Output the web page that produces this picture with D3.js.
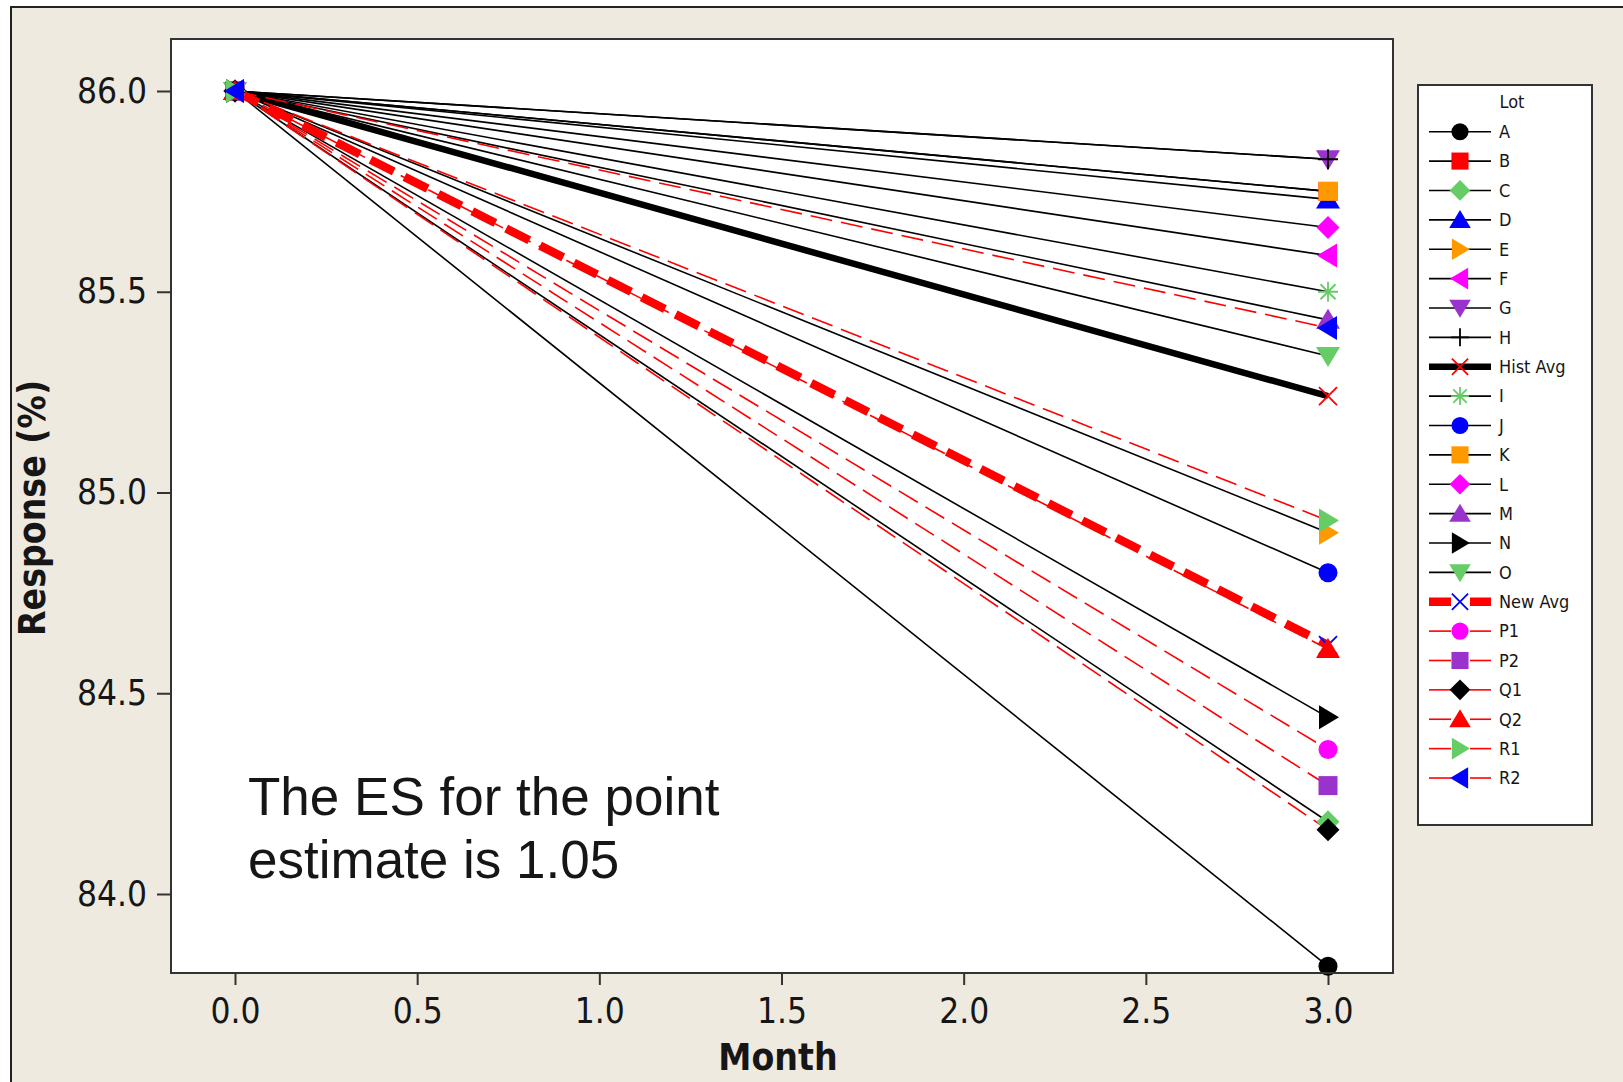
<!DOCTYPE html>
<html>
<head>
<meta charset="utf-8">
<script src="https://cdn.jsdelivr.net/npm/d3@7"></script>
<style>
  body { margin: 0; background: #fff; }
  svg text { fill: #161616; }
</style>
</head>
<body>
<div id="chart"></div>
<script>
// Lots in legend order
var lots = ["A", "B", "C", "D", "E", "F", "G", "H", "Hist Avg", "I", "J", "K", "L",
            "M", "N", "O", "New Avg", "P1", "P2", "Q1", "Q2", "R1", "R2"];
var months = [0, 3];
// Response (%) at month 0 and month 3, one pair per lot
var response = [
  [86.0, 83.82], // A
  [86.0, 85.75], // B
  [86.0, 84.18], // C
  [86.0, 85.73], // D
  [86.0, 84.90], // E
  [86.0, 85.59], // F
  [86.0, 85.83], // G
  [86.0, 85.83], // H
  [86.0, 85.24], // Hist Avg
  [86.0, 85.50], // I
  [86.0, 84.80], // J
  [86.0, 85.75], // K
  [86.0, 85.66], // L
  [86.0, 85.43], // M
  [86.0, 84.44], // N
  [86.0, 85.34], // O
  [86.0, 84.62], // New Avg
  [86.0, 84.36], // P1
  [86.0, 84.27], // P2
  [86.0, 84.16], // Q1
  [86.0, 84.61], // Q2
  [86.0, 84.93], // R1
  [86.0, 85.41]  // R2
];
var xTicks = [0, 0.5, 1, 1.5, 2, 2.5, 3];
var yTicks = [84, 84.5, 85, 85.5, 86];

// marker shape / colour / line kind per lot
var styles = {
  "A": ["circle", "#000000", "solid"],
  "B": ["square", "#ff0000", "solid"],
  "C": ["diamond", "#66cc66", "solid"],
  "D": ["triUp", "#0000ff", "solid"],
  "E": ["triRight", "#ff9900", "solid"],
  "F": ["triLeft", "#ff00ff", "solid"],
  "G": ["triDown", "#9933cc", "solid"],
  "H": ["plus", "#000000", "solid"],
  "Hist Avg": ["x", "#ff0000", "thick"],
  "I": ["asterisk", "#66cc66", "solid"],
  "J": ["circle", "#0000ff", "solid"],
  "K": ["square", "#ff9900", "solid"],
  "L": ["diamond", "#ff00ff", "solid"],
  "M": ["triUp", "#9933cc", "solid"],
  "N": ["triRight", "#000000", "solid"],
  "O": ["triDown", "#66cc66", "solid"],
  "New Avg": ["x", "#0000ff", "thickdash"],
  "P1": ["circle", "#ff00ff", "dash"],
  "P2": ["square", "#9933cc", "dash"],
  "Q1": ["diamond", "#000000", "dash"],
  "Q2": ["triUp", "#ff0000", "dash"],
  "R1": ["triRight", "#66cc66", "dash"],
  "R2": ["triLeft", "#0000ff", "dash"]
};

var lineKinds = {
  solid:     { color: "#000", width: 1.6, dash: null },
  thick:     { color: "#000", width: 6.5, dash: null },
  dash:      { color: "#ff0000", width: 1.6, dash: "22,9" },
  thickdash: { color: "#ff0000", width: 8.5, dash: "26,12" }
};

function markerPath(shape, k) {
  k = k || 1;
  var r = 9.5 * k, d = 11.5 * k;
  switch (shape) {
    case "circle": return "M" + (-r) + ",0A" + r + "," + r + " 0 1,0 " + r + ",0A" + r + "," + r + " 0 1,0 " + (-r) + ",0Z";
    case "square": return "M" + (-r) + "," + (-r) + "H" + r + "V" + r + "H" + (-r) + "Z";
    case "diamond": return "M0," + (-d) + "L" + d + ",0L0," + d + "L" + (-d) + ",0Z";
    case "triUp": return "M0," + (-11 * k) + "L" + (12 * k) + "," + (9 * k) + "L" + (-12 * k) + "," + (9 * k) + "Z";
    case "triDown": return "M0," + (11 * k) + "L" + (12 * k) + "," + (-9 * k) + "L" + (-12 * k) + "," + (-9 * k) + "Z";
    case "triRight": return "M" + (11 * k) + ",0L" + (-9 * k) + "," + (-12 * k) + "L" + (-9 * k) + "," + (12 * k) + "Z";
    case "triLeft": return "M" + (-11 * k) + ",0L" + (9 * k) + "," + (-12 * k) + "L" + (9 * k) + "," + (12 * k) + "Z";
    case "plus": return "M" + (-10 * k) + ",0H" + (10 * k) + "M0," + (-10 * k) + "V" + (10 * k);
    case "x": return "M" + (-9 * k) + "," + (-9 * k) + "L" + (9 * k) + "," + (9 * k) + "M" + (9 * k) + "," + (-9 * k) + "L" + (-9 * k) + "," + (9 * k);
    case "asterisk":
      var a = 7.5 * k, b = 10 * k;
      return "M" + (-b) + ",0H" + b + "M0," + (-b) + "V" + b +
             "M" + (-a) + "," + (-a) + "L" + a + "," + a + "M" + a + "," + (-a) + "L" + (-a) + "," + a;
  }
}
var strokeShapes = { plus: 1, x: 1, asterisk: 1 };

function drawMarker(sel, lot, k) {
  var s = styles[lot];
  var stroked = strokeShapes[s[0]];
  sel.append("path")
     .attr("d", markerPath(s[0], k))
     .attr("fill", stroked ? "none" : s[1])
     .attr("stroke", stroked ? s[1] : "none")
     .attr("stroke-width", stroked ? 1.8 : 0);
}

var svg = d3.select("#chart").append("svg")
            .attr("width", 1623)
            .attr("height", 1082);

// beige outer panel
svg.append("rect")
   .attr("x", 11).attr("y", 7)
   .attr("width", 1700).attr("height", 1200)
   .attr("fill", "#eeeae0")
   .attr("stroke", "#222").attr("stroke-width", 2);

var plotLeft = 171, plotTop = 39, plotRight = 1393, plotBottom = 973;

svg.append("rect")
   .attr("x", plotLeft).attr("y", plotTop)
   .attr("width", plotRight - plotLeft).attr("height", plotBottom - plotTop)
   .attr("fill", "#fff");

var x = d3.scaleLinear().domain([0, 3]).range([235, 1328]);
var y = d3.scaleLinear().domain([84, 86]).range([894, 91]);

// axes
var yAxis = svg.append("g")
   .attr("transform", "translate(" + plotLeft + ",0)")
   .call(d3.axisLeft(y).tickValues(yTicks).tickSize(14).tickPadding(10)
           .tickFormat(d3.format(".1f")));
var xAxis = svg.append("g")
   .attr("transform", "translate(0," + plotBottom + ")")
   .call(d3.axisBottom(x).tickValues(xTicks).tickSize(12).tickPadding(13)
           .tickFormat(d3.format(".1f")));
[yAxis, xAxis].forEach(function(ax) {
  ax.select(".domain").remove();
  ax.selectAll(".tick line").attr("stroke", "#333").attr("stroke-width", 2);
  ax.selectAll(".tick text")
    .attr("font-family", "'DejaVu Sans Condensed', 'DejaVu Sans', sans-serif")
    .attr("font-size", 35)
    .attr("fill", "#161616");
});

// series lines
var line = d3.line()
  .x(function(d, i) { return x(months[i]); })
  .y(function(d) { return y(d); });

var plot = svg.append("g");
lots.forEach(function(lot, i) {
  var kind = lineKinds[styles[lot][2]];
  plot.append("path")
      .attr("d", line(response[i]))
      .attr("fill", "none")
      .attr("stroke", kind.color)
      .attr("stroke-width", kind.width)
      .attr("stroke-dasharray", kind.dash);
});

// markers
lots.forEach(function(lot, i) {
  response[i].forEach(function(v, j) {
    var g = plot.append("g")
      .attr("transform", "translate(" + x(months[j]) + "," + y(v) + ")");
    drawMarker(g, lot, 1);
  });
});

// plot frame on top
svg.append("rect")
   .attr("x", plotLeft).attr("y", plotTop)
   .attr("width", plotRight - plotLeft).attr("height", plotBottom - plotTop)
   .attr("fill", "none")
   .attr("stroke", "#333").attr("stroke-width", 2);

// axis titles
svg.append("text")
   .attr("x", 778).attr("y", 1070)
   .attr("text-anchor", "middle")
   .attr("font-family", "'DejaVu Sans Condensed', 'DejaVu Sans', sans-serif")
   .attr("font-weight", "bold")
   .attr("font-size", 37)
   .text("Month");

svg.append("text")
   .attr("transform", "translate(45,508) rotate(-90)")
   .attr("text-anchor", "middle")
   .attr("font-family", "'DejaVu Sans Condensed', 'DejaVu Sans', sans-serif")
   .attr("font-weight", "bold")
   .attr("font-size", 37)
   .text("Response (%)");

// annotation
var note = svg.append("text")
   .attr("font-family", "'Liberation Sans', Arial, sans-serif")
   .attr("font-size", 53)
   .attr("fill", "#000");
note.append("tspan").attr("x", 248).attr("y", 815).text("The ES for the point");
note.append("tspan").attr("x", 248).attr("y", 878).text("estimate is 1.05");

// legend
var legend = svg.append("g");
legend.append("rect")
   .attr("x", 1418).attr("y", 85)
   .attr("width", 174).attr("height", 740)
   .attr("fill", "#fff")
   .attr("stroke", "#333").attr("stroke-width", 2);

legend.append("text")
   .attr("x", 1512).attr("y", 108)
   .attr("text-anchor", "middle")
   .attr("font-family", "'DejaVu Sans Condensed', 'DejaVu Sans', sans-serif")
   .attr("font-size", 18)
   .text("Lot");

var rowY = d3.scaleLinear().domain([0, lots.length - 1]).range([131.7, 778]);
lots.forEach(function(lot, i) {
  var ly = rowY(i);
  var kind = lineKinds[styles[lot][2]];
  var row = legend.append("g");
  var segs = kind.dash ? [[1429, 1451], [1470, 1491]] : [[1429, 1491]];
  segs.forEach(function(s) {
    row.append("line")
       .attr("x1", s[0]).attr("x2", s[1])
       .attr("y1", ly).attr("y2", ly)
       .attr("stroke", kind.color)
       .attr("stroke-width", kind.width);
  });
  var g = row.append("g").attr("transform", "translate(1460," + ly + ")");
  drawMarker(g, lot, 0.9);
  row.append("text")
     .attr("x", 1499).attr("y", ly)
     .attr("dy", "0.35em")
     .attr("font-family", "'DejaVu Sans Condensed', 'DejaVu Sans', sans-serif")
     .attr("font-size", 18)
     .text(lot);
});
</script>
</body>
</html>
